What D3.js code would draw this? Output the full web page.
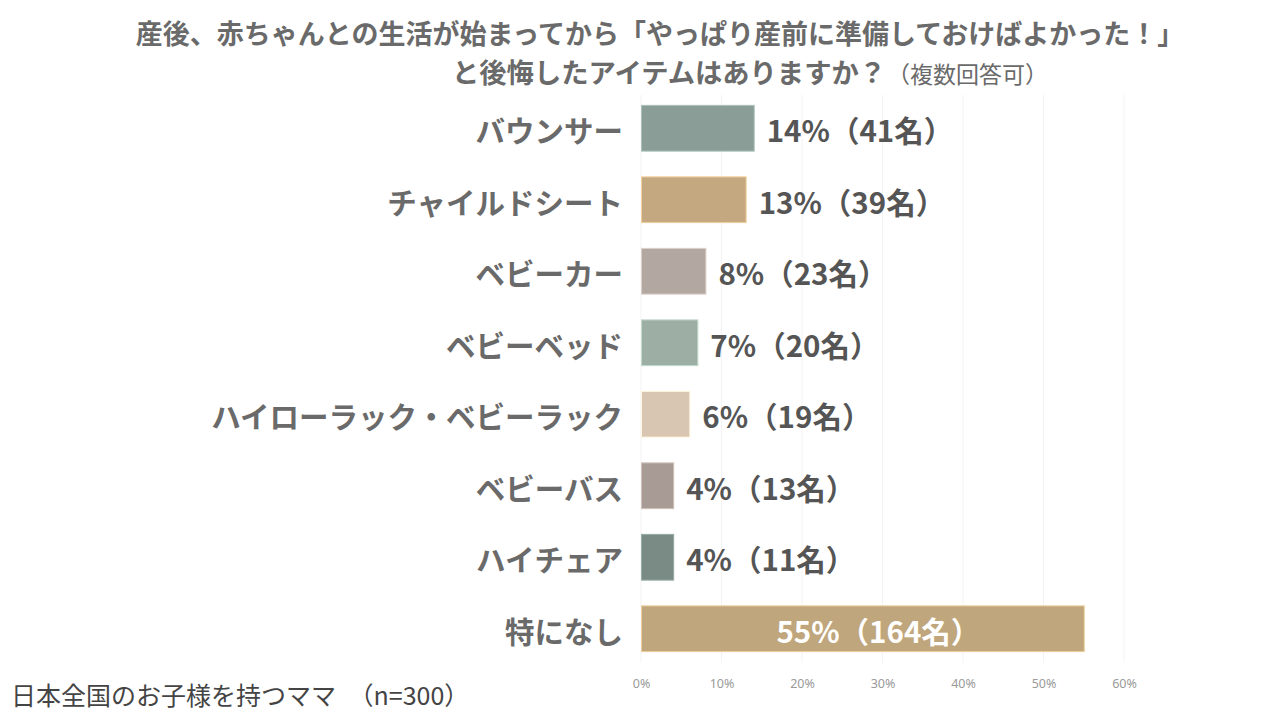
<!DOCTYPE html>
<html>
<head>
<meta charset="utf-8">
<script src="https://cdn.jsdelivr.net/npm/d3@7"></script>
<style>
html,body{margin:0;padding:0;background:#fff;}
svg{display:block;font-family:"Noto Sans CJK JP","Noto Sans",sans-serif;}
</style>
</head>
<body>
<svg id="chart" width="1280" height="720"></svg>
<script>
const categories = ["バウンサー","チャイルドシート","ベビーカー","ベビーベッド","ハイローラック・ベビーラック","ベビーバス","ハイチェア","特になし"];
const percents = [14,13,8,7,6,4,4,55];
const counts = [41,39,23,20,19,13,11,164];
const colors = ["#8A9D97","#C4A880","#B3A7A2","#9DAFA4","#D8C6B2","#A89B96","#7A8B86","#BFA67C"];
const xTicks = [0,10,20,30,40,50,60];
const titleLine1 = "産後、赤ちゃんとの生活が始まってから「やっぱり産前に準備しておけばよかった！」";
const titleLine2 = "と後悔したアイテムはありますか？";
const titleNote = "（複数回答可）";
const footnote = "日本全国のお子様を持つママ　（n=300）";

const data = categories.map((c,i)=>({cat:c,pct:percents[i],n:counts[i],color:colors[i]}));

const svg = d3.select("#chart");
const x = d3.scaleLinear().domain([0,60]).range([641,1124]);
const y = d3.scaleBand().domain(categories).range([92.5,664.5]).paddingInner(0.36).paddingOuter(0.18);

// gridlines
svg.append("g").selectAll("line").data(xTicks).join("line")
  .attr("x1",d=>x(d)).attr("x2",d=>x(d))
  .attr("y1",95).attr("y2",663)
  .attr("stroke","#f3f3f3").attr("stroke-width",1);

// axis tick labels
const xAxis = d3.axisBottom(x).tickValues(xTicks).tickFormat(d=>d+"%").tickSize(0);
const gx = svg.append("g").attr("transform","translate(0,676)").call(xAxis);
gx.select(".domain").remove();
gx.selectAll("text").attr("fill","#9a9a9a").style("font-size","12.5px").style("font-family","'Noto Sans','Noto Sans CJK JP',sans-serif");

// bars
svg.append("g").selectAll("rect").data(data).join("rect")
  .attr("x",x(0)+0.5)
  .attr("y",d=>y(d.cat))
  .attr("width",d=>x(d.pct)-x(0))
  .attr("height",y.bandwidth())
  .attr("fill",d=>d.color)
  .attr("stroke",d=>d3.color(d.color).brighter(0.6))
  .attr("stroke-width",1);

// category labels
svg.append("g").selectAll("text").data(data).join("text")
  .attr("x",623)
  .attr("y",d=>y(d.cat)+y.bandwidth()/2)
  .attr("dy","0.48em")
  .attr("text-anchor","end")
  .attr("fill","#6a6a6a")
  .style("font-size","29.5px").style("font-weight","700")
  .text(d=>d.cat);

// value labels
svg.append("g").selectAll("text").data(data).join("text")
  .attr("x",d=>d.pct>30 ? (x(0)+x(d.pct))/2+16 : x(d.pct)+13)
  .attr("y",d=>y(d.cat)+y.bandwidth()/2)
  .attr("dy","0.48em")
  .attr("text-anchor",d=>d.pct>30?"middle":"start")
  .attr("fill",d=>d.pct>30?"#ffffff":"#555555")
  .style("font-size","29.5px").style("font-weight","700")
  .text(d=>`${d.pct}%（${d.n}名）`);

// title
svg.append("text").attr("x",660).attr("y",44).attr("text-anchor","middle")
  .attr("fill","#6a6a6a").style("font-size","27px").style("font-weight","700")
  .text(titleLine1);
const t2 = svg.append("text").attr("x",452).attr("y",83).attr("fill","#6a6a6a");
t2.append("tspan").style("font-size","27.3px").style("font-weight","700").text(titleLine2);
t2.append("tspan").attr("dx",1).style("font-size","23px").style("font-weight","400").text(titleNote);

// footnote
svg.append("text").attr("x",11).attr("y",705).attr("fill","#444")
  .style("font-size","25px").style("font-weight","400").text(footnote);
</script>
</body>
</html>
